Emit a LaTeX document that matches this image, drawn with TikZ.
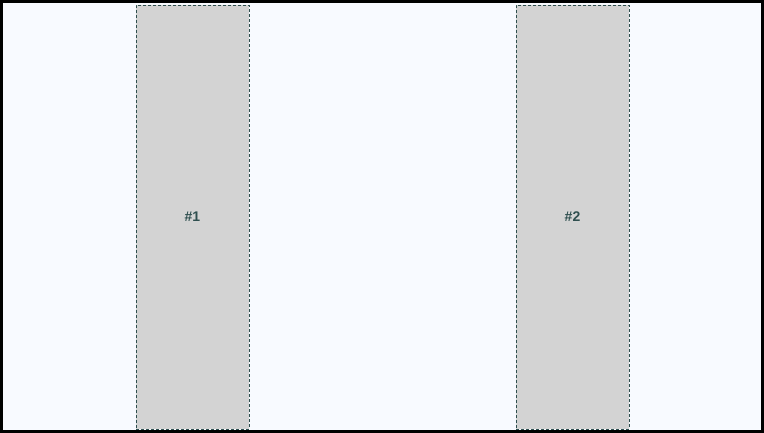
\documentclass[tikz,border=0pt]{standalone}
\usepackage{fontspec}
\setsansfont{Liberation Sans}
\usepackage{xcolor}
\usepackage{tikz}
\usetikzlibrary{positioning}
\definecolor{cpage}{HTML}{F8FAFF}
\definecolor{cslate}{HTML}{2F4F4F}
\definecolor{ccol}{HTML}{D3D3D3}

\begin{document}
\begin{tikzpicture}[x=1pt,y=-1pt,
  every node/.style={font=\sffamily\bfseries\fontsize{14}{16}\selectfont},
  colbox/.style={fill=ccol,draw=cslate,line width=0.8pt,dash pattern=on 3pt off 2pt,
    text=cslate,minimum width=113pt,minimum height=424pt,inner sep=0pt}]
  \useasboundingbox (0,0) rectangle (764,433);
  \fill[cpage] (0,0) rectangle (764,433);

  \node[colbox] (col1) at (192.5,217) {\#1};
  \node[colbox] (col2) at (572.5,217) {\#2};

  \draw[black,line width=2.6pt] (1.3,1.3) rectangle (762.7,431.7);
\end{tikzpicture}
\end{document}
